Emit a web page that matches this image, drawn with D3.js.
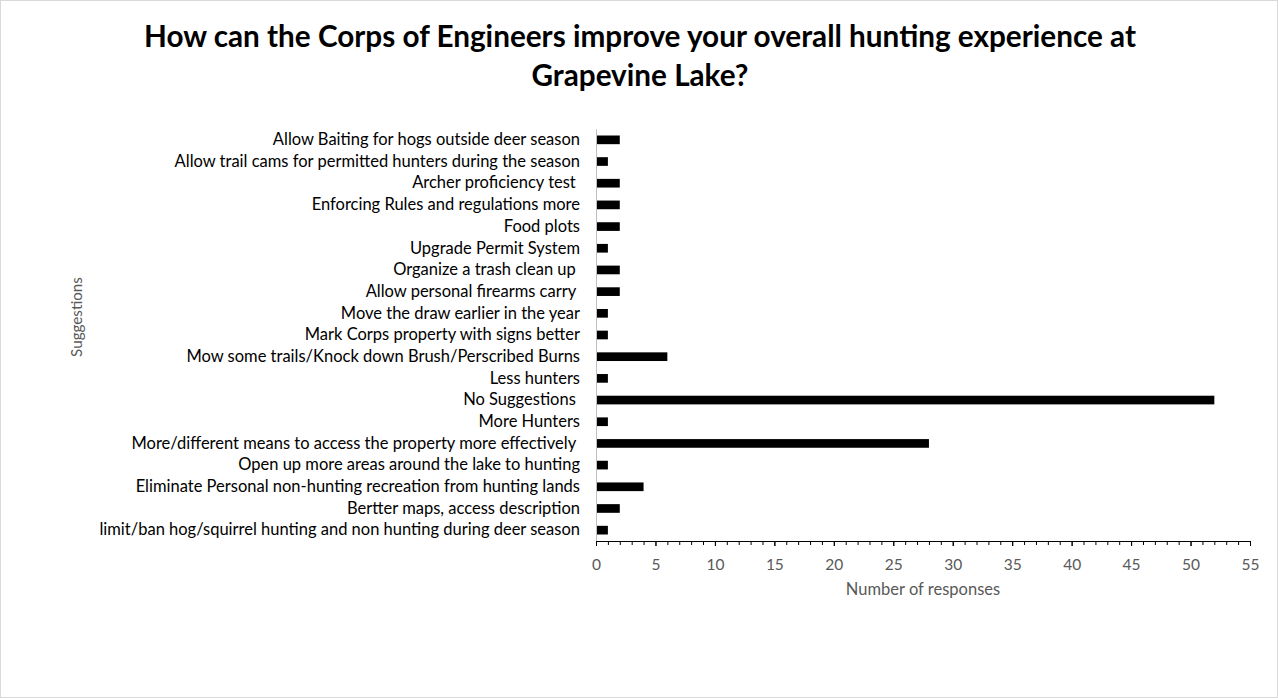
<!DOCTYPE html>
<html><head><meta charset="utf-8">
<script src="https://cdn.jsdelivr.net/npm/d3@7"></script>
<style>
html,body{margin:0;padding:0;background:#fff;}
text{font-family:Lato, "Open Sans", sans-serif;}
</style></head>
<body>
<svg id="c" width="1278" height="698"></svg>
<script>
const categories = [
  "Allow Baiting for hogs outside deer season",
  "Allow trail cams for permitted hunters during the season",
  "Archer proficiency test ",
  "Enforcing Rules and regulations more",
  "Food plots",
  "Upgrade Permit System",
  "Organize a trash clean up ",
  "Allow personal firearms carry ",
  "Move the draw earlier in the year",
  "Mark Corps property with signs better",
  "Mow some trails/Knock down Brush/Perscribed Burns",
  "Less hunters",
  "No Suggestions ",
  "More Hunters",
  "More/different means to access the property more effectively ",
  "Open up more areas around the lake to hunting",
  "Eliminate Personal non-hunting recreation from hunting lands",
  "Bertter maps, access description",
  "limit/ban hog/squirrel hunting and non hunting during deer season"
];
const values = [2,1,2,2,2,1,2,2,1,1,6,1,52,1,28,1,4,2,1];
const xTicks = [0,5,10,15,20,25,30,35,40,45,50,55];
const titleLines = ["How can the Corps of Engineers improve your overall hunting experience at","Grapevine Lake?"];
const xTitle = "Number of responses";
const yTitle = "Suggestions";

const svg = d3.select("#c");
svg.append("rect").attr("x",0.5).attr("y",0.5).attr("width",1277).attr("height",697)
  .attr("fill","#fff").attr("stroke","#d9d9d9");

const pL=596, pR=1250, pT=129, pB=541;
const x = d3.scaleLinear().domain([0,55]).range([pL,pR]);
const y = d3.scaleBand().domain(categories).range([pT,pB]).paddingInner(0.6).paddingOuter(0.3);

svg.append("g").selectAll("text").data(titleLines).join("text")
  .attr("x",640).attr("y",(d,i)=>47+i*39).attr("text-anchor","middle")
  .attr("font-size",29.7).attr("font-weight","bold").attr("fill","#000").text(d=>d);

svg.append("g").selectAll("rect").data(values).join("rect")
  .attr("x",x(0)).attr("y",(d,i)=>y(categories[i]))
  .attr("width",d=>x(d)-x(0)).attr("height",y.bandwidth()).attr("fill","#000");

const yAxis = svg.append("g").attr("transform",`translate(${pL},0)`)
  .call(d3.axisLeft(y).tickSize(0).tickPadding(16));
yAxis.select(".domain").attr("stroke","#bfbfbf").attr("stroke-width",1);
yAxis.selectAll("text").attr("font-size",16.5).attr("fill","#000").attr("font-family","Lato, sans-serif")
  .style("white-space","pre");

const minor = d3.range(0,56,1);
svg.append("g").attr("transform",`translate(0,${pB})`)
  .selectAll("line").data(minor).join("line")
  .attr("x1",d=>x(d)+0.5).attr("x2",d=>x(d)+0.5).attr("y1",0).attr("y2",d=>d%5===0?5:4)
  .attr("stroke","#000");
const xAxis = svg.append("g").attr("transform",`translate(0,${pB})`)
  .call(d3.axisBottom(x).tickValues(xTicks).tickSize(5).tickPadding(13));
xAxis.select(".domain").attr("stroke","#000");
xAxis.selectAll(".tick line").attr("stroke","#000");
xAxis.selectAll("text").attr("font-size",15.5).attr("fill","#595959").attr("font-family","Lato, sans-serif");

svg.append("text").attr("x",923).attr("y",595).attr("text-anchor","middle")
  .attr("font-size",16.5).attr("fill","#595959").text(xTitle);
svg.append("text").attr("transform","translate(82,317) rotate(-90)").attr("text-anchor","middle")
  .attr("font-size",15.2).attr("fill","#595959").text(yTitle);
</script>
</body></html>
